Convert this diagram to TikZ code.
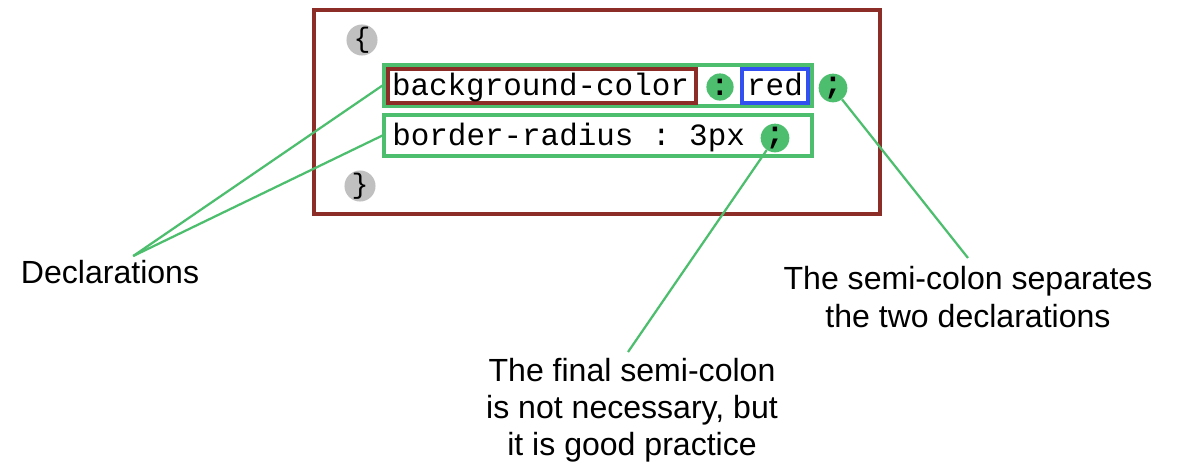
\documentclass[tikz,border=0pt]{standalone}
\usepackage{fontspec}
\setmainfont{Liberation Sans}
\setmonofont{Liberation Mono}
\usepackage{tikz}
\usetikzlibrary{calc}

\definecolor{rulebrown}{RGB}{140,45,40}
\definecolor{declgreen}{RGB}{76,190,110}
\definecolor{valblue}{RGB}{50,80,240}
\definecolor{bracegray}{RGB}{192,192,192}

\begin{document}
\begin{tikzpicture}[
	code/.style={font=\fontsize{22}{26}\selectfont\ttfamily, inner sep=0pt, text height=0.55cm, text depth=0.07cm},
	note/.style={font=\fontsize{22.8}{26.5}\selectfont, align=center, inner sep=0pt},
	decl/.style={draw=declgreen, line width=2.2pt, minimum width=10.7cm, minimum height=1.025cm},
	dot/.style={circle, fill=declgreen, minimum size=0.68cm, inner sep=0pt, font=\fontsize{22}{24}\selectfont\ttfamily\bfseries},
	brace/.style={circle, fill=bracegray, minimum size=0.66cm, inner sep=0pt, font=\fontsize{20}{24}\selectfont\ttfamily},
	pointer/.style={declgreen, line width=1.6pt}]
				\useasboundingbox (0,0) rectangle (29.625,-11.625);
				%rule block and braces placed by hand
				\node[draw=rulebrown, line width=2.2pt, minimum width=14.15cm, minimum height=5.1cm] (rule) at (14.925,-2.8){};
				\node[brace] (open) at (9.05,-1.0){\{};
				\node[brace] (close) at (9.0,-4.65){\}};

				%% first declaration
				\node[decl] (d1) at (14.95,-2.1375){};
				\node[code, draw=rulebrown, line width=2.2pt, minimum width=7.7cm, minimum height=0.85cm, text width=7.5cm] (prop) at (13.55,-2.15){background-color};
				\node[dot] (colon) at (18.0,-2.175){:};
				\node[code, draw=valblue, line width=2.2pt, minimum width=1.65cm, minimum height=0.85cm] (val) at (19.375,-2.15){red};
				\node[dot] (semiA) at (20.825,-2.2){;};

				%% second declaration
				\node[decl] (d2) at (14.95,-3.3875){};
				\node[code, anchor=west] (radius) at (9.8,-3.39){border-radius : 3px};
				\node[dot] (semiB) at (19.375,-3.45){;};

				%% notes below
				\node[note] (declnote) at (2.75,-6.8){Declarations};
				\node[note] (sepnote) at (24.2,-7.425){The semi-colon separates\\the two declarations};
				\node[note] (finalnote) at (15.8,-10.25){The final semi-colon\\is not necessary, but\\ it is good practice};
				\coordinate (dtip) at (3.33,-6.4);
				\coordinate (stip) at (24.2,-6.45);
				\coordinate (ftip) at (15.7,-8.8);

				\draw[pointer] (dtip)--(d1.west);
				\draw[pointer] (dtip)--(d2.west);
				\draw[pointer] (semiA)--(stip);
				\draw[pointer] (semiB)--(ftip);
				\end{tikzpicture}
\end{document}
